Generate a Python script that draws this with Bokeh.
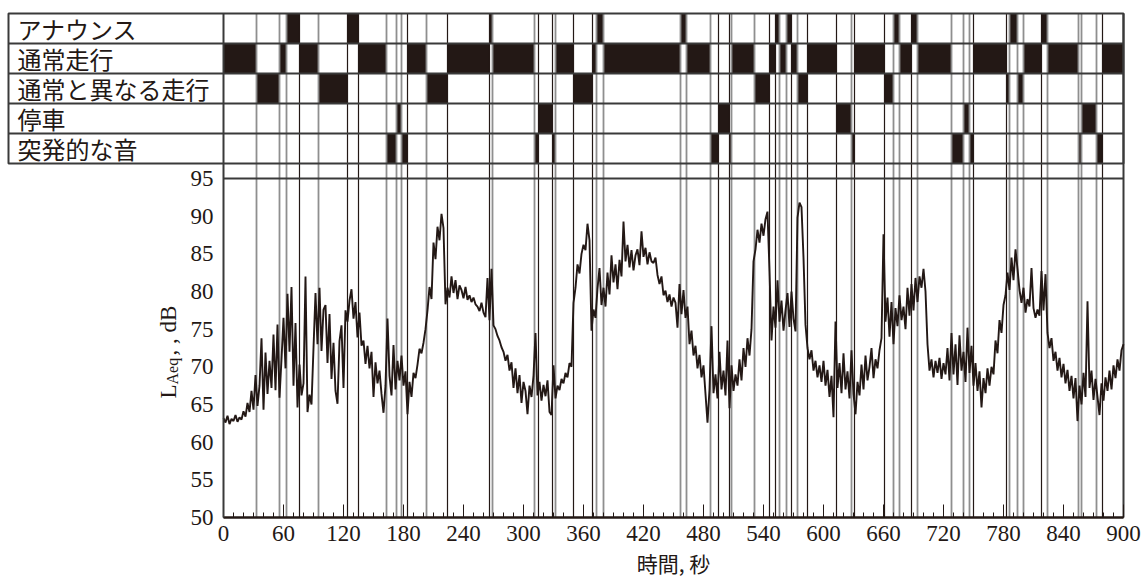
import numpy as np
from bokeh.plotting import figure
from bokeh.models import Range1d, FixedTicker
from bokeh.core.properties import value
from bokeh.embed import file_html
from bokeh.resources import INLINE

# ---------------- data ----------------
row_labels = ["アナウンス", "通常走行", "通常と異なる走行", "停車", "突発的な音"]

announce = [(63, 76), (124, 135), (266, 269), (373, 380), (457, 463), (552, 556),
            (563, 568), (670, 676), (688, 694), (786, 794), (818, 824)]
normal = [(0, 33), (56, 63), (76, 95), (135, 163), (184, 203), (224, 266), (269, 311),
          (332, 350), (369, 373), (380, 457), (463, 487), (508, 531), (546, 552),
          (556, 563), (568, 574), (584, 613), (631, 661), (676, 688), (694, 728),
          (750, 783), (800, 818), (824, 855), (879, 900)]
different = [(33, 56), (95, 124), (203, 224), (350, 369), (531, 546), (574, 584),
             (661, 670), (783, 786), (794, 800)]
stop = [(173, 178), (315, 329), (495, 506), (613, 628), (740, 746), (858, 873)]
sudden = [(163, 173), (178, 184), (311, 315), (329, 332), (487, 495), (506, 508),
          (628, 631), (728, 740), (746, 750), (855, 858), (873, 879)]

# boundaries drawn as lighter grey lines (others dark)
gray_marks = [33, 56, 63, 95, 163, 173, 178, 203, 269, 311, 332, 373, 380, 457, 463,
              487, 508, 531, 556, 563, 574, 628, 670, 676, 694, 728, 740, 746, 786,
              794, 800, 824, 855, 858, 873]

x_ticks = list(range(0, 901, 60))
x_minor = list(range(0, 901, 10))
y_ticks = list(range(50, 96, 5))
x_title = "時間, 秒"
y_title_parts = ["L", "Aeq", ", , dB"]

time_s = list(range(0, 901, 2))
laeq_db = [
    63.2, 62.6, 63.5, 62.4, 63.1, 62.8, 63.6, 62.7, 63.3, 63.0,
    64.1, 63.4, 65.2, 64.0, 66.8, 64.3, 68.9, 64.8, 67.5, 73.8,
    64.3, 71.9, 66.4, 70.8, 67.2, 74.3, 66.9, 75.6, 65.9, 71.0,
    76.5, 69.8, 79.7, 72.0, 80.6, 67.5, 75.8, 64.6, 70.3, 66.2,
    67.8, 82.0, 64.0, 66.3, 65.0, 72.5, 79.8, 73.0, 80.5, 72.1,
    77.6, 78.2, 70.5, 77.0, 68.4, 73.2, 66.8, 65.1, 73.4, 75.5,
    67.2, 77.5, 76.0, 78.8, 80.3, 76.4, 78.6, 73.9, 77.2, 72.8,
    73.5, 70.4, 72.8, 69.8, 72.0, 66.0, 70.6, 67.8, 69.5, 66.4,
    63.9, 67.5, 76.4, 68.8, 66.2, 72.9, 67.0, 70.8, 68.2, 71.5,
    67.5, 69.4, 63.7, 68.0, 66.0, 69.2, 68.5, 70.3, 72.4, 71.8,
    73.2, 75.0, 77.5, 80.6, 79.0, 86.5, 84.3, 88.6, 86.8, 90.3,
    88.4, 78.3, 80.5, 79.2, 82.0, 79.8, 81.5, 79.0, 80.8, 80.2,
    79.1, 80.6, 78.9, 79.5, 78.6, 79.2, 78.3, 78.0, 77.4, 78.5,
    77.2, 76.6, 81.8, 76.2, 83.0, 75.5, 75.0, 74.1, 73.5, 72.6,
    72.0, 70.8, 71.6, 69.5, 70.6, 67.2, 69.8, 66.5, 68.9, 65.2,
    68.0, 66.8, 63.7, 67.5, 66.0, 68.8, 74.5, 66.2, 68.0, 65.5,
    67.6, 66.1, 68.2, 64.0, 63.6, 70.2, 65.8, 67.5, 66.9, 68.4,
    67.8, 69.2, 68.6, 70.5, 70.0, 78.5, 80.5, 83.6, 82.4, 85.0,
    86.2, 85.5, 89.0, 86.8, 74.8, 77.6, 76.5, 80.4, 83.1, 78.2,
    80.5, 78.0, 82.5, 79.6, 84.8, 81.2, 83.6, 80.3, 84.2, 82.0,
    89.3, 84.0, 86.2, 83.2, 85.5, 82.8, 84.8, 85.6, 83.5, 88.0,
    84.6, 85.8, 83.6, 85.2, 84.0, 83.8, 84.5, 82.2, 81.0, 82.0,
    79.5, 80.1, 78.6, 79.6, 78.0, 79.2, 78.5, 75.2, 81.0, 77.0,
    80.2, 76.5, 78.0, 73.0, 74.8, 71.5, 72.8, 69.8, 71.6, 68.6,
    70.2, 66.4, 62.6, 67.0, 75.4, 66.5, 69.0, 65.8, 72.0, 67.0,
    69.5, 66.2, 73.5, 64.5, 70.2, 66.8, 69.0, 67.5, 71.0, 68.2,
    72.5, 70.0, 73.8, 71.5, 75.0, 84.0, 85.6, 88.2, 86.5, 89.0,
    87.4, 89.6, 90.6, 82.7, 73.5, 78.0, 75.2, 81.5, 76.0, 78.8,
    74.8, 77.5, 79.8, 75.3, 80.0, 76.4, 74.7, 89.8, 91.8, 91.2,
    84.5, 75.6, 72.5, 71.0, 72.2, 69.5, 70.8, 68.6, 70.2, 68.0,
    70.8, 67.5, 69.6, 66.0, 68.8, 63.3, 76.0, 67.2, 70.5, 66.5,
    71.8, 67.0, 69.4, 65.8, 72.2, 66.4, 63.7, 68.0, 66.2, 70.3,
    67.0, 71.5, 68.2, 70.0, 72.5, 68.5, 71.0, 69.8, 72.2, 73.8,
    87.6, 76.0, 79.2, 74.0, 78.6, 73.0, 77.8, 75.4, 79.5, 76.2,
    78.0, 75.0, 80.5, 76.8, 81.0, 77.5, 81.8, 78.6, 82.0, 80.5,
    83.0, 80.0, 73.0, 69.5, 71.0, 68.6, 70.8, 69.2, 71.2, 68.4,
    70.5, 69.0, 72.5, 68.2, 74.5, 69.0, 73.0, 67.6, 74.2, 69.5,
    72.0, 68.0, 75.2, 69.2, 72.8, 67.5, 70.5, 66.8, 69.4, 64.6,
    68.5, 66.5, 69.8, 67.5, 70.0, 69.0, 73.5, 71.8, 76.2, 74.5,
    78.2, 79.5, 82.5, 80.2, 84.5, 81.5, 85.6, 83.0, 80.2, 78.5,
    80.5, 77.2, 79.0, 78.0, 83.1, 77.8, 76.5, 77.6, 76.8, 82.7,
    77.5, 82.3, 74.5, 72.5, 73.8, 70.8, 72.0, 69.5, 71.2, 68.6,
    70.4, 67.8, 69.6, 66.8, 68.8, 65.8, 68.5, 62.8, 67.5, 65.0,
    69.2, 66.0, 78.7, 67.2, 69.5, 65.6, 68.4, 66.0, 63.6, 67.8,
    65.5, 68.6, 66.8, 69.5, 67.0, 70.2, 68.5, 71.0, 69.5, 72.2,
    73.0,
]
assert len(time_s) == len(laeq_db)

# ---------------- layout constants (pixels) ----------------
INK = "#231815"
GRAY = "#8f8f8f"
FRAME = "#3a3a3a"
W, H = 1144, 578
BL, BR, BT, BB = 6, 0, 11, 0             # borders around the frame
PANEL_TOP_PX = 13                        # top of event table (page px)
ROW_PX = 30                              # height of one event row
Y95_PX = 178                             # page px of the 95 dB line
Y50_PX = 517                             # page px of the x axis (50 dB)
PX_PER_DB = (Y50_PX - Y95_PX) / 45.0
X0_PX = 223                              # page px of t = 0

nrows = len(row_labels)
ev_top = nrows + (PANEL_TOP_PX - BT) / ROW_PX


def ev_at(yp):
    return ev_top - (yp - BT) / ROW_PX


def db_at(yp):
    return 95 - (yp - Y95_PX) / PX_PER_DB


def t_at(xp):
    return xp - X0_PX


p = figure(width=W, height=H,
           x_range=Range1d(t_at(BL), t_at(W - BR)),
           y_range=Range1d(db_at(H - BB), db_at(BT)),
           output_backend="svg", toolbar_location=None,
           min_border_left=BL, min_border_right=BR, min_border_top=BT, min_border_bottom=BB)
p.extra_y_ranges = {"ev": Range1d(ev_at(H - BB), ev_top)}
p.grid.visible = False
p.outline_line_color = None

events = [announce, normal, different, stop, sudden]
bounds = sorted({t for ev in events for iv in ev for t in iv} - {0, 900})
b_cols = [GRAY if t in gray_marks else INK for t in bounds]
b_w = [1.8 if t in gray_marks else 1.2 for t in bounds]
ev_axis = ev_at(Y50_PX)

# event bars
L, R, B, T = [], [], [], []
for k, ev in enumerate(events):
    for s, e in ev:
        L.append(s); R.append(e); B.append(nrows - 1 - k); T.append(nrows - k)
p.quad(left=L, right=R, bottom=B, top=T, fill_color=INK, line_color=None, y_range_name="ev")

# event boundary lines, running from the table top down to the x axis
p.segment(x0=bounds, y0=[ev_axis] * len(bounds), x1=bounds, y1=[nrows] * len(bounds),
          line_color=b_cols, line_width=b_w, y_range_name="ev")

# table grid
x_left = t_at(8)
p.quad(left=[x_left], right=[900], bottom=[0], top=[nrows], fill_color=None,
       line_color=FRAME, line_width=2, y_range_name="ev")
p.segment(x0=[x_left] * (nrows - 1), y0=list(range(1, nrows)), x1=[900] * (nrows - 1),
          y1=list(range(1, nrows)), line_color=FRAME, line_width=2, y_range_name="ev")
p.segment(x0=[900], y0=[ev_axis], x1=[900], y1=[nrows], line_color=FRAME, line_width=2,
          y_range_name="ev")
p.text(x=[t_at(17)] * nrows, y=[nrows - k - 0.5 for k in range(nrows)], text=row_labels,
       text_font=value("Noto Sans CJK JP"), text_font_size="24px",
       text_baseline="middle", text_align="left", text_color=INK, y_range_name="ev")

# 95 dB frame line
p.segment(x0=[0], y0=[y_ticks[-1]], x1=[900], y1=[y_ticks[-1]], line_color=FRAME, line_width=2)

# LAeq trace
p.line(time_s, laeq_db, line_color=INK, line_width=1.9)

# x axis, fixed at 50 dB inside the frame
xa = p.xaxis[0]
xa.fixed_location = 50
xa.bounds = (0, 900)
xa.ticker = FixedTicker(ticks=x_ticks, minor_ticks=x_minor)
xa.major_tick_in = 13
xa.major_tick_out = 0
xa.minor_tick_in = 5
xa.minor_tick_out = 0
xa.major_tick_line_color = INK
xa.minor_tick_line_color = INK
xa.axis_line_color = INK
xa.axis_line_width = 2.5
xa.major_label_text_font = "Liberation Serif"
xa.major_label_text_font_size = "23px"
xa.major_label_text_color = INK
xa.major_label_standoff = 8

# y axis drawn at t = 0, inside the frame
ya = p.yaxis[0]
ya.fixed_location = 0
ya.bounds = (50, db_at(PANEL_TOP_PX))
ya.ticker = FixedTicker(ticks=y_ticks)
ya.major_tick_in = 0
ya.major_tick_out = 0
ya.minor_tick_line_color = None
ya.axis_line_color = FRAME
ya.axis_line_width = 2
ya.major_label_text_font = "Liberation Serif"
ya.major_label_text_font_size = "23px"
ya.major_label_text_color = INK
ya.major_label_standoff = 10

# x-axis title centred under the axis
p.text(x=[450], y=[db_at(562)], text=[x_title],
       text_font=value("Noto Sans CJK JP"), text_font_size="21px",
       text_color=INK, text_align="center", text_baseline="middle")

# rotated y-axis title with subscript
for txt, xp, yp, size in zip(y_title_parts, [168, 172, 168], [398, 384, 355],
                             ["23px", "16px", "23px"]):
    p.text(x=[t_at(xp)], y=[db_at(yp)], text=[txt], angle=np.pi / 2,
           text_font=value("Liberation Serif"), text_font_size=size,
           text_color=INK, text_align="left", text_baseline="alphabetic")

open("out.html", "w").write(file_html(p, INLINE))
